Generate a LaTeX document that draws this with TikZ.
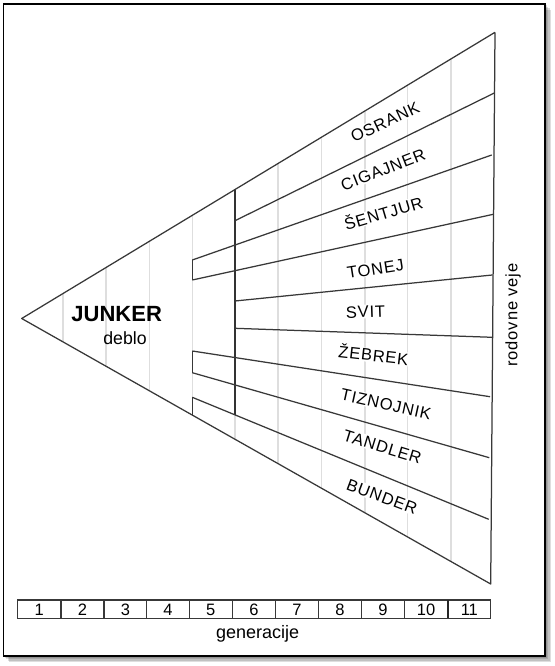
\documentclass[tikz,border=0pt]{standalone}
\usepackage{fontspec}
\setmainfont{Liberation Sans}
\newfontfamily\labfont[LetterSpace=5]{Liberation Sans}
\usetikzlibrary{calc}
\begin{document}
\begin{tikzpicture}[x=1pt,y=-1pt,
  edge/.style={draw=black!78, line width=1.25pt, line join=round},
  stem/.style={draw=black!80, line width=1.7pt},
  gridline/.style={draw=black!13, line width=1.3pt},
  branchlabel/.style={font=\labfont\fontsize{16.5}{18}\selectfont, fill=white, inner sep=1pt,
     text height=11.8pt, text depth=0pt, anchor=center},
  cell/.style={draw=black!78, line width=1.1pt},
  digit/.style={font=\fontsize{16.5}{18}\selectfont, text height=11.8pt, text depth=0pt, inner sep=0pt, anchor=center},
]
\useasboundingbox (0,0) rectangle (554,666);
% frame with shadow
\foreach \o in {1.5,3,4.5,6}{
  \fill[black, opacity=0.13] (3.3+\o,4+\o) rectangle (545+\o,656+\o);
}
\draw[black, line width=1.2pt, fill=white] (3.3,4) rectangle (545,656);

% main points
\coordinate (A) at (21.7,318.5);
\coordinate (T) at (495,32.3);
\coordinate (B) at (490.7,584);

% generation grid lines
\foreach \gx in {63,106,149.5,192.3,235,278,321.5,365,407.5,451}{
  \draw[gridline] (\gx,{318.5-0.6047*(\gx-21.7)}) -- (\gx,{318.5+0.5661*(\gx-21.7)});
}

% branch labels
\node[branchlabel, rotate=25]   (osrank)   at (385,122)   {OSRANK};
\node[branchlabel, rotate=21.5] (cigajner) at (383,169.5) {CIGAJNER};
\node[branchlabel, rotate=16.5] (sentjur)  at (383.5,213.5) {ŠENTJUR};
\node[branchlabel, rotate=9]    (tonej)    at (375.5,268.5) {TONEJ};
\node[branchlabel, rotate=2]    (svit)     at (365.5,311.5) {SVIT};
\node[branchlabel, rotate=-6.5] (zebrek)   at (373.5,355.5) {ŽEBREK};
\node[branchlabel, rotate=-12.5] (tiznojnik) at (386,404) {TIZNOJNIK};
\node[branchlabel, rotate=-17]  (tandler)  at (382.5,446.5) {TANDLER};
\node[branchlabel, rotate=-20.5] (bunder)  at (382,496.5) {BUNDER};

% trunk text
\node[font=\bfseries\fontsize{22}{24}\selectfont, anchor=base, inner sep=0pt] (junker) at (116.7,321.7) {JUNKER};
\node[font=\fontsize{17.7}{20}\selectfont, anchor=base, inner sep=0pt] (deblo) at (125,344) {deblo};

% side label
\node[font=\labfont\fontsize{16.5}{18}\selectfont, rotate=90, text height=8.6pt, text depth=0pt, inner sep=0pt, anchor=center] (veje) at (513,315) {rodovne veje};

% outline of the fan
\draw[edge] (T) -- (A) -- (B) -- (T);

% branch end points on the right edge
\coordinate (R1) at (494.3,93);
\coordinate (R2) at (491.7,155);
\coordinate (R3) at (493.3,214.3);
\coordinate (R4) at (492.3,275);
\coordinate (R5) at (492.3,337.3);
\coordinate (R6) at (490,396.7);
\coordinate (R7) at (489.3,457.7);
\coordinate (R8) at (488.7,519.3);

% branch start points
\coordinate (L1) at (235,220.7);
\coordinate (L2) at (192.3,260);
\coordinate (L3) at (192.3,280);
\coordinate (L4) at (235,301);
\coordinate (L5) at (235,328.3);
\coordinate (L6) at (192.3,351);
\coordinate (L7) at (192.3,372.7);
\coordinate (L8) at (192.3,397.3);
\coordinate (Vt) at (235,189.5);
\coordinate (Vb) at (235,414.8);
\coordinate (Bb) at (192.3,415);

% stem
\draw[stem] (Vt) -- (Vb);
% brackets
\draw[edge] (L2) -- (L3);
\draw[edge] (L6) -- (L7);
\draw[edge] (L8) -- (Bb);
% branches
\draw[edge] (L1) -- (R1);
\draw[edge] (L2) -- (R2);
\draw[edge] (L3) -- (R3);
\draw[edge] (L4) -- (R4);
\draw[edge] (L5) -- (R5);
\draw[edge] (L6) -- (R6);
\draw[edge] (L7) -- (R7);
\draw[edge] (L8) -- (R8);

% generation scale
\def\bnd{{17.3,61,104,146.7,189.3,232.3,275.7,318.3,361.7,404.3,448,490.7}}
\foreach \i in {1,...,11}{
  \pgfmathsetmacro{\xa}{\bnd[\i-1]}
  \pgfmathsetmacro{\xb}{\bnd[\i]}
  \draw[cell] (\xa,600) rectangle (\xb,618.3);
  \node[digit] (g\i) at ({(\xa+\xb)/2},609.2) {\i};
}
\draw[black!85, line width=2.4pt] (448,600) -- (448,618.3);
\node[font=\fontsize{18}{20}\selectfont, anchor=base, inner sep=0pt] (gen) at (257.7,638.8) {generacije};
\end{tikzpicture}
\end{document}
